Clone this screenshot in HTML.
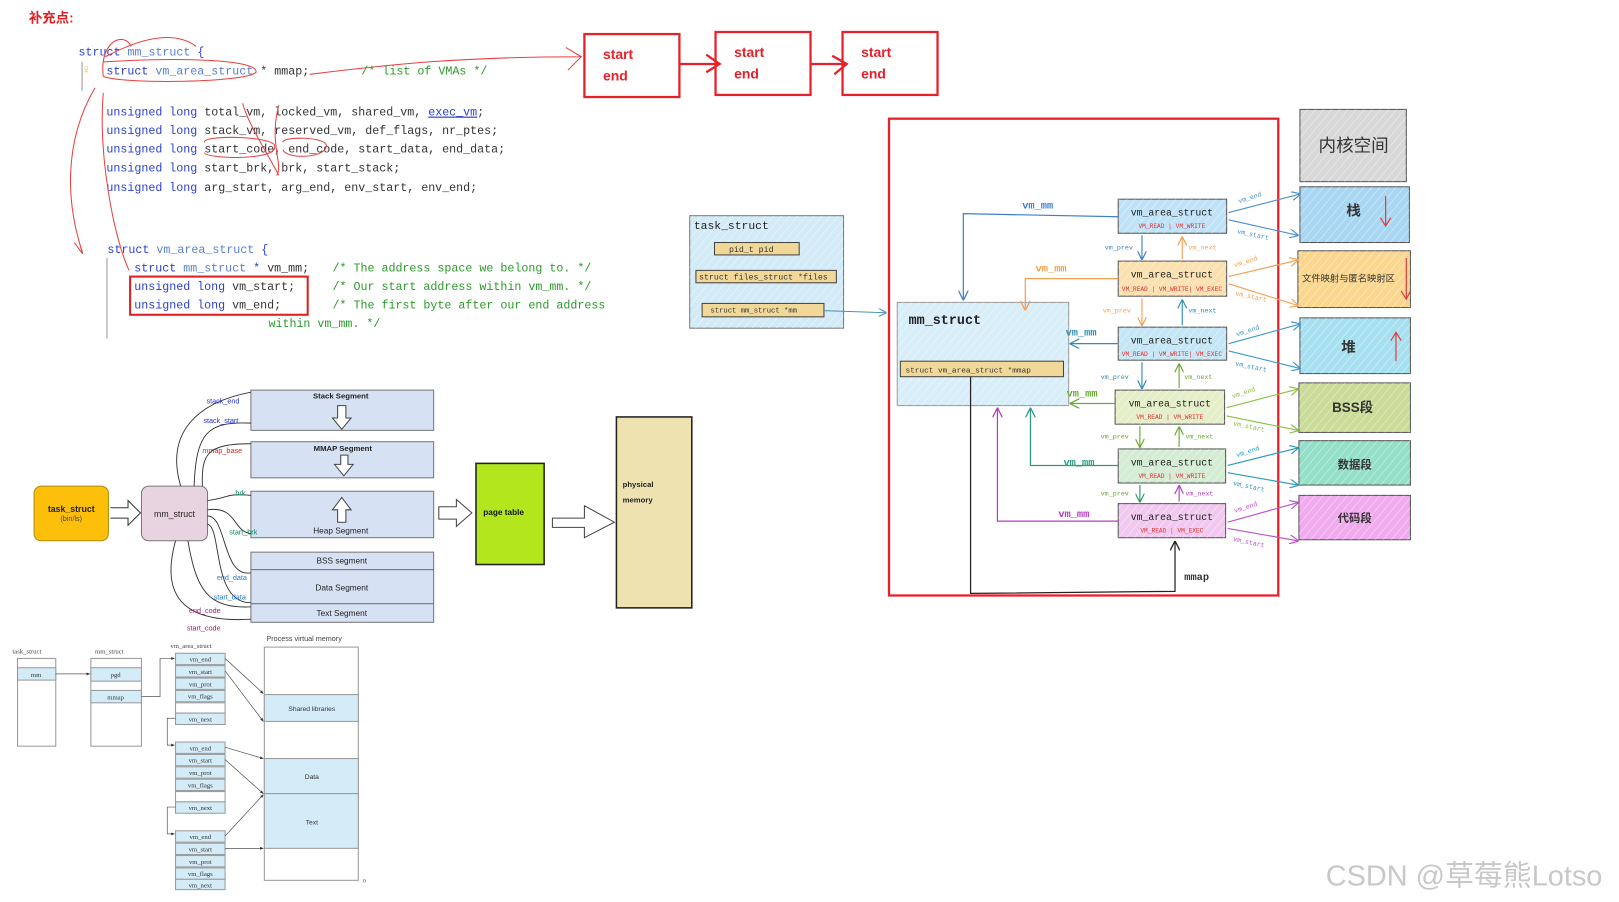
<!DOCTYPE html>
<html><head><meta charset="utf-8"><style>
html,body{margin:0;padding:0;background:#fff;width:1619px;height:902px;overflow:hidden}
svg{display:block}
.m{font-family:"Liberation Mono","DejaVu Sans Mono",monospace}
.s{font-family:"Liberation Sans","Noto Sans CJK SC",sans-serif}
.cj{font-family:"Liberation Sans","Noto Sans CJK SC",sans-serif}
</style></head><body>
<svg width="1619" height="902" viewBox="0 0 1568 874" preserveAspectRatio="none" xmlns="http://www.w3.org/2000/svg">
<defs>
<pattern id="h" width="6" height="6" patternUnits="userSpaceOnUse" patternTransform="rotate(40)">
<line x1="0" y1="0" x2="0" y2="6" stroke="#fff" stroke-opacity="0.45" stroke-width="1.5"/>
</pattern>
<marker id="ar" viewBox="0 0 10 10" refX="9" refY="5" markerWidth="8" markerHeight="8" orient="auto-start-reverse"><path d="M0,0 L10,5 L0,10" fill="none" stroke="context-stroke" stroke-width="1.3"/></marker>
<marker id="sa" viewBox="0 0 10 10" refX="9" refY="5" markerWidth="5" markerHeight="5" orient="auto"><path d="M0,1 L10,5 L0,9z" fill="#333"/></marker>
</defs>

<text x="28" y="22" class="cj" font-size="13" font-weight="bold" fill="#e02020">补充点:</text>
<g class="m" font-size="11.3">
<text x="76" y="54" fill="#2a3fd0">struct <tspan fill="#5a7fd0">mm_struct</tspan> {</text>
<rect x="79" y="60" width="1" height="28" fill="#999"/>
<text x="80" y="71" fill="#e0b030" font-size="12">♀</text>
<text x="103" y="72" fill="#2a3fd0">struct <tspan fill="#5a7fd0">vm_area_struct</tspan> <tspan fill="#333">* mmap;</tspan></text>
<text x="350" y="72" fill="#2a9a2a">/* list of VMAs */</text>
<text x="103" y="112"><tspan fill="#2a3fd0">unsigned long</tspan> <tspan fill="#333">total_vm, locked_vm, shared_vm, </tspan><tspan fill="#2a3fd0" text-decoration="underline">exec_vm</tspan><tspan fill="#333">;</tspan></text>
<text x="103" y="130"><tspan fill="#2a3fd0">unsigned long</tspan> <tspan fill="#333">stack_vm, reserved_vm, def_flags, nr_ptes;</tspan></text>
<text x="103" y="148"><tspan fill="#2a3fd0">unsigned long</tspan> <tspan fill="#333">start_code, end_code, start_data, end_data;</tspan></text>
<text x="103" y="166"><tspan fill="#2a3fd0">unsigned long</tspan> <tspan fill="#333">start_brk, brk, start_stack;</tspan></text>
<text x="103" y="185"><tspan fill="#2a3fd0">unsigned long</tspan> <tspan fill="#333">arg_start, arg_end, env_start, env_end;</tspan></text>
<text x="104" y="245" fill="#2a3fd0">struct <tspan fill="#5a7fd0">vm_area_struct</tspan> {</text>
<rect x="103" y="250" width="1.2" height="78" fill="#aaa"/>
<text x="130" y="263" fill="#2a3fd0">struct <tspan fill="#5a7fd0">mm_struct</tspan> * <tspan fill="#333">vm_mm;</tspan></text>
<text x="322" y="263" fill="#2a9a2a">/* The address space we belong to. */</text>
<text x="130" y="281" fill="#2a3fd0">unsigned long <tspan fill="#333">vm_start;</tspan></text>
<text x="322" y="281" fill="#2a9a2a">/* Our start address within vm_mm. */</text>
<text x="130" y="299" fill="#2a3fd0">unsigned long <tspan fill="#333">vm_end;</tspan></text>
<text x="322" y="299" fill="#2a9a2a">/* The first byte after our end address</text>
<text x="260" y="317" fill="#2a9a2a">within vm_mm. */</text>
</g>
<rect x="126" y="268" width="172" height="37" fill="none" stroke="#e02020" stroke-width="2"/>
<g fill="none" stroke="#e84040" stroke-width="1">
<path d="M100,74 C96,40 120,30 127,45 M102,55 C140,35 170,30 190,45"/>
<path d="M100,60 C180,55 250,58 248,70 C240,80 120,82 100,74"/>
<path d="M300,72 C380,62 450,55 563,55 M548,46 L563,55 L550,68"/>
<path d="M92,85 C60,140 65,200 80,245 M72,235 L80,246 L76,232"/>
<path d="M100,90 C95,150 110,230 125,262"/>
<path d="M198,138 C196,130 268,132 266,142 C268,156 200,154 198,148"/>
<path d="M274,138 C272,132 318,132 316,142 C314,154 276,154 274,145"/>
<path d="M235,100 C240,120 260,150 270,170 M270,102 C260,140 275,160 268,170"/>
</g>

<g fill="none" stroke="#e8202a" stroke-width="2.2">
<rect x="566" y="33" width="92" height="61"/>
<rect x="693" y="31" width="92" height="61"/>
<rect x="816" y="31" width="92" height="61"/>
<path d="M658,62 L697,62 M684,53 L697,62 L684,70"/>
<path d="M785,62 L820,62 M806,54 L820,62 L808,72"/>
</g>
<g class="s" font-size="13.5" font-weight="bold" fill="#e8202a">
<text x="584" y="57">start</text><text x="584" y="78">end</text>
<text x="711" y="55">start</text><text x="711" y="76">end</text>
<text x="834" y="55">start</text><text x="834" y="76">end</text>
</g>

<rect x="668" y="209" width="149" height="109" fill="#d3eaf7" stroke="#777"/>
<rect x="668" y="209" width="149" height="109" fill="url(#h)"/>
<text x="672" y="222" class="m" font-size="11" fill="#222">task_struct</text>
<g fill="#f2d898" stroke="#444">
<rect x="692" y="235" width="82" height="12"/><rect x="674" y="262" width="136" height="12"/><rect x="680" y="294" width="118" height="13"/>
</g>
<g class="m" font-size="8" fill="#333">
<text x="706" y="244">pid_t  pid</text><text x="677" y="271">struct files_struct *files</text><text x="688" y="303" font-size="7">struct mm_struct    *mm</text>
</g>
<path d="M798,301 L858,303" stroke="#4a90b0" fill="none" marker-end="url(#ar)"/>

<rect x="861" y="115" width="377" height="462" fill="none" stroke="#e8202a" stroke-width="2.2"/>
<rect x="869" y="293" width="166" height="100" fill="#d8eef8" stroke="#999"/>
<rect x="869" y="293" width="166" height="100" fill="url(#h)"/>
<text x="880" y="314" class="m" font-size="13" font-weight="bold" fill="#222">mm_struct</text>
<rect x="872" y="350" width="158" height="15" fill="#f2d898" stroke="#444"/>
<text x="877" y="361" class="m" font-size="7.5" fill="#333">struct vm_area_struct *mmap</text>

<g stroke="#555">
<rect x="1083" y="193" width="105" height="33" fill="#bfe2f7"/>
<rect x="1083" y="253" width="105" height="34" fill="#fbe0b0"/>
<rect x="1083" y="317" width="105" height="32" fill="#c4e6f5"/>
<rect x="1080" y="378" width="106" height="33" fill="#e4eec8"/>
<rect x="1083" y="435" width="104" height="33" fill="#d4ecd4"/>
<rect x="1083" y="488" width="104" height="33" fill="#f1c9f0"/>
</g>
<g fill="url(#h)">
<rect x="1083" y="193" width="105" height="33"/><rect x="1083" y="253" width="105" height="34"/><rect x="1083" y="317" width="105" height="32"/>
<rect x="1080" y="378" width="106" height="33"/><rect x="1083" y="435" width="104" height="33"/><rect x="1083" y="488" width="104" height="33"/>
</g>
<g class="m" font-size="9.5" fill="#222" text-anchor="middle">
<text x="1135" y="209">vm_area_struct</text><text x="1135" y="269">vm_area_struct</text><text x="1135" y="333">vm_area_struct</text>
<text x="1133" y="394">vm_area_struct</text><text x="1135" y="451">vm_area_struct</text><text x="1135" y="504">vm_area_struct</text>
</g>
<g class="m" font-size="6" fill="#e03030" text-anchor="middle">
<text x="1135" y="221">VM_READ | VM_WRITE</text><text x="1135" y="282">VM_READ | VM_WRITE| VM_EXEC</text><text x="1135" y="345">VM_READ | VM_WRITE| VM_EXEC</text>
<text x="1133" y="406">VM_READ | VM_WRITE</text><text x="1135" y="463">VM_READ | VM_WRITE</text><text x="1135" y="516">VM_READ | VM_EXEC</text>
</g>

<g fill="none" stroke-width="1.2">
<path d="M1083,210 L933,207 L933,290" stroke="#3f7fc8" marker-end="url(#ar)"/>
<path d="M1083,270 L993,270 L993,300" stroke="#f5a050" marker-end="url(#ar)"/>
<path d="M1083,333 L1037,333" stroke="#2f8fb0" marker-end="url(#ar)"/>
<path d="M1080,391 L1037,391" stroke="#6aa830" marker-end="url(#ar)"/>
<path d="M1083,451 L998,451 L998,396" stroke="#2a9a80" marker-end="url(#ar)"/>
<path d="M1083,505 L966,505 L966,396" stroke="#b040c0" marker-end="url(#ar)"/>
<path d="M940,365 L940,575 L1138,573 L1138,525" stroke="#222" marker-end="url(#ar)"/>
</g>
<g class="m" font-size="10" font-weight="bold">
<text x="990" y="202" fill="#3f7fc8">vm_mm</text>
<text x="1003" y="263" fill="#f5a050">vm_mm</text>
<text x="1032" y="325" fill="#2f8fb0">vm_mm</text>
<text x="1033" y="384" fill="#6aa830">vm_mm</text>
<text x="1030" y="451" fill="#2a9a80">vm_mm</text>
<text x="1025" y="501" fill="#b040c0">vm_mm</text>
<text x="1147" y="562" fill="#333">mmap</text>
</g>
<g fill="none" stroke-width="1.1">
<path d="M1106,228 L1106,251" stroke="#3f7fc8" marker-end="url(#ar)"/><path d="M1145,251 L1145,230" stroke="#f5a050" marker-end="url(#ar)"/>
<path d="M1106,289 L1106,315" stroke="#f5a050" marker-end="url(#ar)"/><path d="M1145,315 L1145,291" stroke="#2f8fb0" marker-end="url(#ar)"/>
<path d="M1106,351 L1106,376" stroke="#2f8fb0" marker-end="url(#ar)"/><path d="M1142,376 L1142,353" stroke="#6aa830" marker-end="url(#ar)"/>
<path d="M1104,413 L1104,433" stroke="#6aa830" marker-end="url(#ar)"/><path d="M1142,433 L1142,414" stroke="#6aa830" marker-end="url(#ar)"/>
<path d="M1104,470 L1104,486" stroke="#2a9a60" marker-end="url(#ar)"/><path d="M1142,486 L1142,471" stroke="#b040c0" marker-end="url(#ar)"/>
</g>
<g class="m" font-size="6.5">
<text x="1070" y="242" fill="#3f7fc8">vm_prev</text><text x="1151" y="242" fill="#f5a050">vm_next</text>
<text x="1068" y="303" fill="#f5a050">vm_prev</text><text x="1151" y="303" fill="#2f8fb0">vm_next</text>
<text x="1066" y="367" fill="#2f8fb0">vm_prev</text><text x="1147" y="367" fill="#6aa830">vm_next</text>
<text x="1066" y="425" fill="#6aa830">vm_prev</text><text x="1148" y="425" fill="#6aa830">vm_next</text>
<text x="1066" y="480" fill="#6aa830">vm_prev</text><text x="1148" y="480" fill="#b040c0">vm_next</text>
</g>

<g stroke="#555">
<rect x="1259" y="106" width="103" height="70" fill="#d8d8d8"/>
<rect x="1259" y="181" width="106" height="54" fill="#a9d6f2"/>
<rect x="1257" y="243" width="109" height="55" fill="#fbd68e"/>
<rect x="1259" y="308" width="107" height="54" fill="#a6e0f0"/>
<rect x="1258" y="371" width="108" height="48" fill="#c9dc98"/>
<rect x="1258" y="427" width="108" height="43" fill="#94dfc8"/>
<rect x="1258" y="480" width="108" height="43" fill="#f0aaee"/>
</g>
<g fill="url(#h)">
<rect x="1259" y="106" width="103" height="70"/><rect x="1259" y="181" width="106" height="54"/><rect x="1257" y="243" width="109" height="55"/>
<rect x="1259" y="308" width="107" height="54"/><rect x="1258" y="371" width="108" height="48"/><rect x="1258" y="427" width="108" height="43"/><rect x="1258" y="480" width="108" height="43"/>
</g>
<g class="cj" fill="#333" text-anchor="middle">
<text x="1311" y="147" font-size="17">内核空间</text>
<text x="1311" y="209" font-size="14" font-weight="bold">栈</text>
<text x="1306" y="273" font-size="9">文件映射与匿名映射区</text>
<text x="1306" y="341" font-size="14" font-weight="bold">堆</text>
<text x="1310" y="399" font-size="13" font-weight="bold">BSS段</text>
<text x="1312" y="454" font-size="11" font-weight="bold">数据段</text>
<text x="1312" y="506" font-size="11" font-weight="bold">代码段</text>
</g>
<g stroke="#e04040" fill="none" stroke-width="1.2">
<path d="M1342,190 L1342,218 M1337,211 L1342,219 L1347,211"/>
<path d="M1362,250 L1362,290 M1357,282 L1362,290 L1366,282"/>
<path d="M1352,350 L1352,322 M1347,330 L1352,322 L1357,330"/>
</g>
<g fill="none" stroke-width="1.1">
<path d="M1190,206 L1259,188" stroke="#4a90d0" marker-end="url(#ar)"/><path d="M1190,213 L1257,228" stroke="#4a90d0" marker-end="url(#ar)"/>
<path d="M1190,268 L1257,252" stroke="#f5a050" marker-end="url(#ar)"/><path d="M1190,275 L1257,296" stroke="#f5a050" marker-end="url(#ar)"/>
<path d="M1190,333 L1259,314" stroke="#3a9ac8" marker-end="url(#ar)"/><path d="M1190,340 L1259,357" stroke="#3a9ac8" marker-end="url(#ar)"/>
<path d="M1188,395 L1257,377" stroke="#8ac040" marker-end="url(#ar)"/><path d="M1188,403 L1257,417" stroke="#8ac040" marker-end="url(#ar)"/>
<path d="M1189,451 L1257,434" stroke="#2a9ac0" marker-end="url(#ar)"/><path d="M1189,458 L1257,470" stroke="#2a9ac0" marker-end="url(#ar)"/>
<path d="M1189,506 L1257,487" stroke="#c050d0" marker-end="url(#ar)"/><path d="M1189,512 L1257,524" stroke="#c050d0" marker-end="url(#ar)"/>
</g>
<g class="m" font-size="6.5">
<text x="1200" y="197" fill="#4a90d0" transform="rotate(-18 1200 197)">vm_end</text><text x="1198" y="226" fill="#4a90d0" transform="rotate(12 1198 226)">vm_start</text>
<text x="1196" y="259" fill="#f5a050" transform="rotate(-18 1196 259)">vm_end</text><text x="1196" y="286" fill="#f5a050" transform="rotate(12 1196 286)">vm_start</text>
<text x="1198" y="326" fill="#3a9ac8" transform="rotate(-18 1198 326)">vm_end</text><text x="1196" y="354" fill="#3a9ac8" transform="rotate(12 1196 354)">vm_start</text>
<text x="1194" y="386" fill="#8ac040" transform="rotate(-18 1194 386)">vm_end</text><text x="1194" y="412" fill="#8ac040" transform="rotate(12 1194 412)">vm_start</text>
<text x="1198" y="443" fill="#2a9ac0" transform="rotate(-18 1198 443)">vm_end</text><text x="1194" y="470" fill="#2a9ac0" transform="rotate(12 1194 470)">vm_start</text>
<text x="1196" y="497" fill="#c050d0" transform="rotate(-18 1196 497)">vm_end</text><text x="1194" y="524" fill="#c050d0" transform="rotate(12 1194 524)">vm_start</text>
</g>

<rect x="33" y="471" width="72" height="53" rx="7" fill="#fdbf0a" stroke="#b08a10"/>
<text x="69" y="496" class="s" font-size="8.5" font-weight="bold" text-anchor="middle" fill="#222">task_struct</text>
<text x="69" y="505" class="s" font-size="7" text-anchor="middle" fill="#444">(bin/ls)</text>
<path d="M107,492 L124,492 L124,485 L136,497 L124,509 L124,502 L107,502" fill="#fff" stroke="#333"/>
<rect x="137" y="471" width="64" height="53" rx="7" fill="#e8d4e0" stroke="#777"/>
<text x="169" y="501" class="s" font-size="8.5" text-anchor="middle" fill="#222">mm_struct</text>
<g fill="#d6e2f4" stroke="#777">
<rect x="243" y="378" width="177" height="39"/><rect x="243" y="428" width="177" height="35"/><rect x="243" y="476" width="177" height="45"/>
<rect x="243" y="535" width="177" height="17"/><rect x="243" y="552" width="177" height="33"/><rect x="243" y="585" width="177" height="18"/>
</g>
<g class="s" font-size="8" fill="#222" text-anchor="middle">
<text x="330" y="386" font-weight="bold" font-size="7.5">Stack Segment</text>
<text x="332" y="437" font-weight="bold" font-size="7.5">MMAP Segment</text>
<text x="330" y="517">Heap Segment</text>
<text x="331" y="546">BSS segment</text>
<text x="331" y="572">Data Segment</text>
<text x="331" y="597">Text Segment</text>
</g>
<g fill="#fff" stroke="#444">
<path d="M327,393 L335,393 L335,405 L340,405 L331,416 L322,405 L327,405z"/>
<path d="M330,441 L337,441 L337,450 L342,450 L333,461 L324,450 L330,450z"/>
<path d="M327,506 L335,506 L335,494 L340,494 L331,482 L322,494 L327,494z"/>
<path d="M425,491 L442,491 L442,484 L457,497 L442,510 L442,503 L425,503z"/>
<path d="M535,502 L566,502 L566,490 L595,506 L566,521 L566,511 L535,511z"/>
</g>
<rect x="461" y="449" width="66" height="98" fill="#b4e61e" stroke="#222" stroke-width="1.5"/>
<text x="468" y="499" class="s" font-size="8" font-weight="bold" fill="#111">page table</text>
<rect x="597" y="404" width="73" height="185" fill="#eee3b0" stroke="#222" stroke-width="1.5"/>
<text x="603" y="472" class="s" font-size="7.5" font-weight="bold" fill="#222">physical</text>
<text x="603" y="487" class="s" font-size="7.5" font-weight="bold" fill="#222">memory</text>
<g fill="none" stroke="#333" stroke-width="0.9">
<path d="M175,471 C160,420 190,390 243,380"/><path d="M188,471 C190,420 200,408 243,410"/>
<path d="M196,471 C195,440 200,430 243,430"/><path d="M201,485 C225,482 215,478 243,480"/>
<path d="M201,494 C230,490 225,515 243,517"/><path d="M201,500 C220,500 215,560 243,555"/>
<path d="M201,508 C215,510 205,585 243,584"/><path d="M182,524 C190,570 200,590 243,588"/>
<path d="M170,524 C160,560 160,605 243,600"/>
</g>
<g class="s" font-size="7">
<text x="200" y="391" fill="#2030d0">stack_end</text><text x="197" y="410" fill="#2030d0">stack_start</text>
<text x="196" y="439" fill="#e02020">mmap_base</text><text x="228" y="480" fill="#108060">brk</text>
<text x="222" y="518" fill="#108060">start_brk</text><text x="210" y="562" fill="#2a7ad0">end_data</text>
<text x="207" y="581" fill="#2a7ad0">start_data</text><text x="183" y="594" fill="#a02070">end_code</text>
<text x="181" y="611" fill="#a02070">start_code</text>
</g>

<g font-family="Liberation Serif,serif" font-size="6.5" fill="#444">
<text x="12" y="633">task_struct</text><text x="92" y="633">mm_struct</text><text x="165" y="628">vm_area_struct</text>
</g>
<text x="258" y="621" class="s" font-size="7" fill="#444">Process virtual memory</text>
<g stroke="#999" fill="#fff">
<rect x="17" y="638" width="37" height="85"/><rect x="88" y="638" width="49" height="85"/>
<rect x="256" y="627" width="91" height="226"/>
</g>
<g fill="#d4ecf8" stroke="#999">
<rect x="17" y="647" width="37" height="12"/><rect x="88" y="647" width="49" height="13"/><rect x="88" y="669" width="49" height="12"/>
<rect x="256" y="673" width="91" height="26"/><rect x="256" y="735" width="91" height="34"/><rect x="256" y="769" width="91" height="53"/>
<rect x="170" y="633" width="48" height="11"/><rect x="170" y="645" width="48" height="11"/><rect x="170" y="657" width="48" height="11"/><rect x="170" y="669" width="48" height="11"/><rect x="170" y="681" width="48" height="10" fill="#fff"/><rect x="170" y="691" width="48" height="11"/>
<rect x="170" y="719" width="48" height="11"/><rect x="170" y="731" width="48" height="11"/><rect x="170" y="743" width="48" height="11"/><rect x="170" y="755" width="48" height="11"/><rect x="170" y="767" width="48" height="10" fill="#fff"/><rect x="170" y="777" width="48" height="11"/>
<rect x="170" y="805" width="48" height="11"/><rect x="170" y="817" width="48" height="11"/><rect x="170" y="829" width="48" height="11"/><rect x="170" y="841" width="48" height="11"/><rect x="170" y="852" width="48" height="10"/>
</g>
<g font-family="Liberation Serif,serif" font-size="6.5" fill="#333" text-anchor="middle">
<text x="35" y="656">mm</text><text x="112" y="656">pgd</text><text x="112" y="678">mmap</text>
<text x="194" y="641">vm_end</text><text x="194" y="653">vm_start</text><text x="194" y="665">vm_prot</text><text x="194" y="677">vm_flags</text><text x="194" y="699">vm_next</text>
<text x="194" y="727">vm_end</text><text x="194" y="739">vm_start</text><text x="194" y="751">vm_prot</text><text x="194" y="763">vm_flags</text><text x="194" y="785">vm_next</text>
<text x="194" y="813">vm_end</text><text x="194" y="825">vm_start</text><text x="194" y="837">vm_prot</text><text x="194" y="849">vm_flags</text><text x="194" y="860">vm_next</text>
<text x="302" y="689" font-family="Liberation Sans,sans-serif">Shared libraries</text>
<text x="302" y="755" font-family="Liberation Sans,sans-serif">Data</text>
<text x="302" y="799" font-family="Liberation Sans,sans-serif">Text</text>
<text x="353" y="855" font-size="5">0</text>
</g>
<g fill="none" stroke="#555" stroke-width="0.7">
<path d="M54,653 L87,653" marker-end="url(#sa)"/>
<path d="M137,675 L155,675 L155,638 L169,638" marker-end="url(#sa)"/>
<path d="M170,696 L162,696 L162,722 L169,722" marker-end="url(#sa)"/>
<path d="M170,782 L162,782 L162,808 L169,808" marker-end="url(#sa)"/>
<path d="M218,638 L255,672" marker-end="url(#sa)"/><path d="M218,650 L255,699" marker-end="url(#sa)"/>
<path d="M218,724 L255,735" marker-end="url(#sa)"/><path d="M218,736 L255,769" marker-end="url(#sa)"/>
<path d="M218,810 L255,770" marker-end="url(#sa)"/><path d="M218,822 L255,822" marker-end="url(#sa)"/>
</g>

<text x="1284" y="858" class="cj" font-size="28" fill="#c8c8c8">CSDN @草莓熊Lotso</text>
</svg>
</body></html>
